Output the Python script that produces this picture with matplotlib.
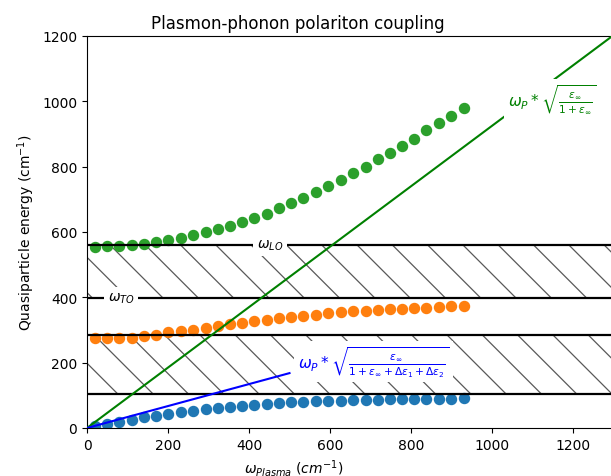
import numpy as np
import matplotlib
matplotlib.use('Agg')
import matplotlib.pyplot as plt
from matplotlib.patches import Rectangle
from matplotlib.collections import LineCollection
from matplotlib.transforms import IdentityTransform

# plasma frequency (cm^-1) of the computed modes
w_plasma = [20, 50, 80, 110, 141, 171, 201, 231, 262, 293, 323, 353, 383, 413, 444,
            475, 504, 534, 565, 596, 627, 657, 688, 718, 748, 778, 808, 838, 869, 898, 930]

# coupled mode branches (cm^-1)
w_low = [5, 12, 17, 24, 33, 38, 43, 50, 53, 58, 61, 65, 68, 71, 74,
         77, 79, 81, 82, 83, 84, 86, 87, 87, 88, 88, 89, 89, 90, 90, 91]
w_mid = [275, 275, 275, 277, 281, 285, 293, 298, 301, 305, 312, 317, 321, 327, 331,
         337, 340, 343, 346, 351, 355, 357, 359, 361, 364, 365, 366, 368, 370, 373, 375]
w_high = [553, 556, 557, 559, 562, 568, 575, 582, 591, 599, 608, 619, 631, 644, 656,
          672, 688, 704, 721, 740, 760, 781, 799, 823, 843, 864, 886, 911, 933, 955, 979]

# phonon frequencies (cm^-1)
w_LO1 = 560
w_TO1 = 398
w_LO2 = 285
w_TO2 = 103

# asymptotes
green_x = [0, 1400]
green_y = [0, 1295]
blue_x = [0, 500]
blue_y = [0, 168]

xticks = [0, 200, 400, 600, 800, 1000, 1200]
xmax = 1400
ymax = 1200


def hatch_band(ax, y0, y1, spacing=35.3, phase=23.3):
        rect = Rectangle((0, y0), xmax, y1 - y0, transform=ax.transData,
                         facecolor='none', edgecolor='none')
        ax.add_patch(rect)
        (dx0, dy0), (dx1, dy1) = ax.transData.transform([(0, y0), (xmax, y1)])
        cmin = dx0 + dy0
        cmax = dx1 + dy1
        start = phase + spacing * np.floor((cmin - phase) / spacing)
        segs = []
        c = start
        while c < cmax + spacing:
                segs.append([(c - dy1, dy1), (c - dy0, dy0)])
                c += spacing
        lc = LineCollection(segs, colors='0.35', linewidths=0.9,
                            transform=IdentityTransform(), zorder=1)
        lc.set_clip_path(rect)
        ax.add_collection(lc, autolim=False)


fig = plt.figure(figsize=(6.11, 4.77), dpi=100)
ax = fig.add_axes([87 / 611, 48 / 477, 567 / 611, 392 / 477])
ax.set_xlim(0, xmax)
ax.set_ylim(0, ymax)
ax.set_xticks(xticks)

hatch_band(ax, w_TO2, w_LO2)
hatch_band(ax, w_TO1, w_LO1)

ax.scatter(w_plasma, w_low, s=52, color='C0', zorder=2)
ax.scatter(w_plasma, w_mid, s=52, color='C1', zorder=2)
ax.scatter(w_plasma, w_high, s=52, color='C2', zorder=2)

for w in [w_LO1, w_TO1, w_LO2, w_TO2]:
        ax.axhline(w, color='black', lw=1.6, zorder=3)

ax.plot(green_x, green_y, color='green', lw=1.5, zorder=3)
ax.plot(blue_x, blue_y, color='blue', lw=1.5, zorder=3)

box = dict(facecolor='white', edgecolor='none', pad=2.5)
ax.text(452, w_LO1, r'$\omega_{LO}$', ha='center', va='center', fontsize=10, bbox=box, zorder=4)
ax.text(84, w_TO1, r'$\omega_{TO}$', ha='center', va='center', fontsize=10, bbox=box, zorder=4)
ax.text(1149, 1008, r'$\omega_P * \sqrt{\frac{\epsilon_\infty}{1+\epsilon_\infty}}$',
        ha='center', va='center', fontsize=11, color='green', bbox=box, zorder=4)
ax.text(521, 203, r'$\omega_P * \sqrt{\frac{\epsilon_\infty}{1+\epsilon_\infty+\Delta\epsilon_1+\Delta\epsilon_2}}$',
        ha='left', va='center', fontsize=11, color='blue', bbox=box, zorder=4)

ax.set_title('Plasmon-phonon polariton coupling', x=0.372)
ax.set_xlabel(r'$\omega_{Plasma}\ (cm^{-1})$', x=0.365)
ax.set_ylabel('Quasiparticle energy (cm$^{-1}$)')

fig.savefig('out.png', dpi=100)
